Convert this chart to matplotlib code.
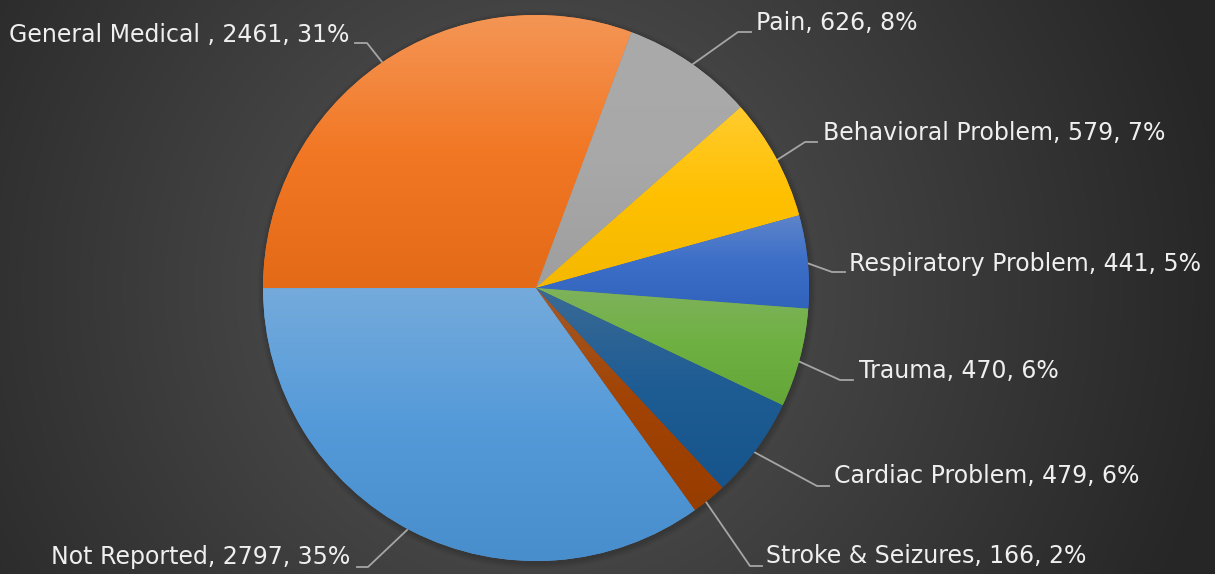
import numpy as np
import matplotlib.pyplot as plt
import matplotlib.colors as mcolors

# dados do grafico (ordem do Excel, sentido horario)
categorias = ['Not Reported', 'General Medical ', 'Pain', 'Behavioral Problem',
              'Respiratory Problem', 'Trauma', 'Cardiac Problem', 'Stroke & Seizures']
valores = [2797, 2461, 626, 579, 441, 470, 479, 166]
cores = ['#5B9BD5', '#ED7D31', '#A5A5A5', '#FFC000', '#4472C4', '#70AD47', '#255E91', '#9E480E']

# posicoes dos rotulos em pixels (texto x, y, alinhamento) e linhas guia
rotulos_pos = [(350, 557, 'right'), (349, 35, 'right'), (756, 23, 'left'), (823, 133, 'left'),
               (849, 264, 'left'), (859, 371, 'left'), (834, 476, 'left'), (766, 556, 'left')]
guias = [[(357, 567), (368, 567), (407, 530)],
         [(355, 43), (367, 43), (382, 62)],
         [(751, 32), (738, 32), (693, 64)],
         [(817, 142), (805, 142), (777, 160)],
         [(845, 272), (832, 272), (807, 263)],
         [(853, 380), (840, 380), (798, 361)],
         [(829, 486), (817, 486), (754, 452)],
         [(762, 566), (750, 566), (706, 502)]]

W, H = 1215, 574
cx, cy, R = 536, 288, 273

fig = plt.figure(figsize=(W / 100, H / 100), dpi=100)

# fundo com gradiente radial
bg = fig.add_axes([0, 0, 1, 1])
yy, xx = np.mgrid[0:H, 0:W]
d = np.sqrt((xx - cx) ** 2 + (yy - cy) ** 2) / 700
d = np.clip(d, 0, 1)
c0 = np.array(mcolors.to_rgb('#575757'))
c1 = np.array(mcolors.to_rgb('#262626'))
img = c0[None, None, :] * (1 - d[..., None]) + c1[None, None, :] * d[..., None]
bg.imshow(img, extent=[0, W, H, 0], aspect='auto')
bg.set_xlim(0, W)
bg.set_ylim(H, 0)
bg.axis('off')

# sombra suave
for k in range(6):
    circ = plt.Circle((cx + 1, cy + 2), R + 6 - k, color='black', alpha=0.025, lw=0)
    bg.add_patch(circ)

ax = fig.add_axes([(cx - R) / W, (H - cy - R) / H, 2 * R / W, 2 * R / H])
fatias, _ = ax.pie(valores, colors=cores, startangle=305.6, counterclock=False,
                   radius=1, wedgeprops=dict(linewidth=0))


def ajusta(cor, fs, fv):
    hsv = mcolors.rgb_to_hsv(mcolors.to_rgb(cor))
    hsv[1] = min(hsv[1] * fs, 1)
    hsv[2] = min(hsv[2] * fv, 1)
    return mcolors.hsv_to_rgb(hsv)


# gradiente vertical em cada fatia (claro em cima, saturado no meio, escuro embaixo)
for w, cor in zip(fatias, cores):
    t = np.radians(np.linspace(w.theta1, w.theta2, 200))
    ys = np.concatenate([np.sin(t), [0]])
    topo, base = ys.max(), ys.min()
    c_topo = ajusta(cor, 0.82, 1.03)
    c_meio = ajusta(cor, 1.07, 1.02)
    c_base = ajusta(cor, 1.13, 0.96)
    f = np.linspace(0, 1, 100)
    grad = np.zeros((100, 1, 3))
    for i in range(3):
        grad[:, 0, i] = np.interp(f, [0, 0.5, 1], [c_topo[i], c_meio[i], c_base[i]])
    im = ax.imshow(grad, extent=[-1, 1, base, topo], aspect='auto', zorder=2)
    im.set_clip_path(w)
ax.set_xlim(-1, 1)
ax.set_ylim(-1, 1)
ax.axis('off')

total = sum(valores)
for nome, v, (px, py, ha), g in zip(categorias, valores, rotulos_pos, guias):
    pct = round(v / total * 100)
    bg.text(px, py, f'{nome}, {v}, {pct}%', ha=ha, va='center', color='#EFEFEF',
            fontsize=17, family='DejaVu Sans')
    gx = [p[0] for p in g]
    gy = [p[1] for p in g]
    bg.plot(gx, gy, color='#A6A6A6', lw=1.3, zorder=5)

fig.savefig('out.png', dpi=100)
